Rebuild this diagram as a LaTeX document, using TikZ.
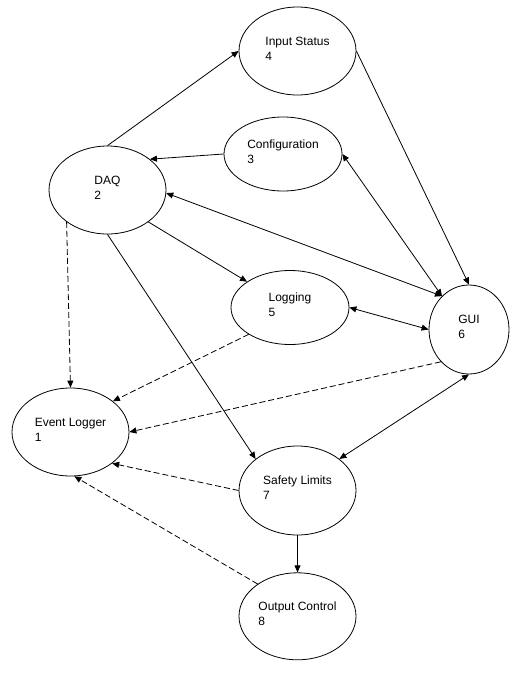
\documentclass[tikz,border=0pt]{standalone}
\usepackage{fontspec}
\setmainfont{Liberation Sans}
\usetikzlibrary{shapes.geometric,arrows.meta,positioning}
\tikzset{
  st/.style={ellipse,draw=black,line width=0.8pt,inner sep=0pt,
             minimum width=117pt,minimum height=88pt,
             align=left,text depth=5pt,font=\fontsize{12}{15}\selectfont},
  arr/.style={-{Triangle[length=7pt,width=6pt]},line width=0.8pt},
  barr/.style={{Triangle[length=7pt,width=6pt]}-{Triangle[length=7pt,width=6pt]},line width=0.8pt},
  darr/.style={arr,dash pattern=on 6pt off 3pt},
}
\begin{document}
\begin{tikzpicture}[x=1pt,y=-1pt]
  \useasboundingbox (0,0) rectangle (524,675);
  % states
  \node[st] (ins)  at (297.5,51)    {Input Status\\4};
  \node[st, minimum width=118pt, minimum height=74pt] (cfg) at (283,154) {Configuration\\3};
  \node[st] (daq)  at (107.5,190)   {DAQ\\2};
  \node[st, minimum width=118pt, minimum height=74pt] (logg) at (290,307.5) {Logging\\5};
  \node[st, minimum width=80pt, minimum height=89pt] (gui) at (469,329.5) {GUI\\6};
  \node[st] (evl)  at (70.5,432)    {Event Logger\\1};
  \node[st, minimum height=89pt] (saf) at (297.5,490.5) {Safety Limits\\7};
  \node[st, minimum height=87pt, below=37pt of saf] (outc) {Output Control\\8};

  % solid links
  \draw[arr]  (daq.north) -- (ins.west);
  \draw[arr]  (cfg.west)  -- (daq.36);
  \draw[barr] (gui.129)   -- (daq.-3);
  \draw[barr] (gui.129)   -- (cfg.east);
  \draw[arr]  (ins.east)  -- (gui.north);
  \draw[arr]  (daq.-38)   -- (logg.149);
  \draw[arr]  (daq.south) -- (saf.143);
  \draw[barr] (logg.east) -- (gui.west);
  \draw[barr] (gui.south) -- (saf.37);
  \draw[arr]  (saf.south) -- (outc.north);

  % event logging
  \draw[darr] (daq.218)   -- (evl.north);
  \draw[darr] (logg.213)  -- (evl.36);
  \draw[darr] (gui.229)   -- (evl.east);
  \draw[darr] (saf.west)  -- (evl.-37);
  \draw[darr] (outc.141)  -- (evl.-85);
\end{tikzpicture}
\end{document}
